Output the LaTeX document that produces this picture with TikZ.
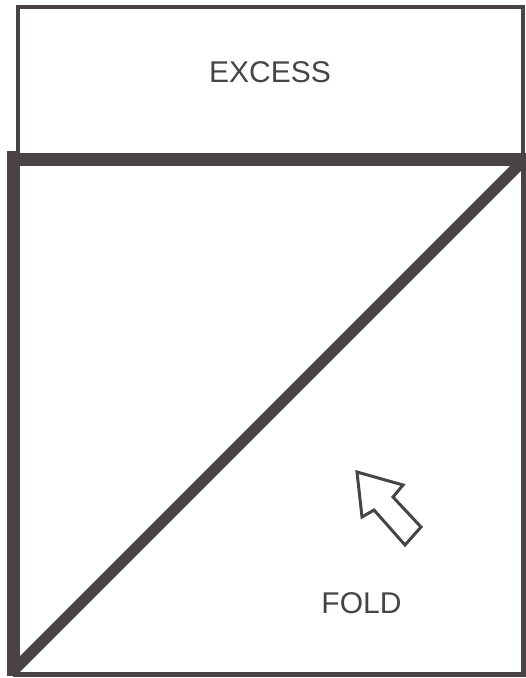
\documentclass[tikz,border=0pt]{standalone}
\usepackage{fontspec}
\setmainfont{Liberation Sans}
\definecolor{ink}{HTML}{4A4345}
\begin{document}
\begin{tikzpicture}[x=1pt,y=-1pt,
  thin line/.style={draw=ink,line width=3.5pt},
  mid line/.style={draw=ink,line width=5pt},
  thick line/.style={draw=ink,line width=13pt},
  label/.style={text=ink,inner sep=0pt,font=\fontsize{30}{36}\selectfont}]
\useasboundingbox[fill=white] (0,0) rectangle (526,678);
% excess box
\draw[thin line] (18,159) -- (18,7) -- (523,7) -- (523,159);
% lower square
\draw[mid line] (13,674) -- (523,674) -- (523,159);
\draw[thick line] (13,151) -- (13,676);
\draw[thick line] (7,159) -- (526,159);
\draw[draw=ink,line width=11pt] (16,668) -- (521,163);
% arrow
\draw[draw=ink,line width=3pt,line join=miter,fill=white]
  (357,472) -- (403,485) -- (393,497) -- (421,527) -- (405,545) -- (374,510) -- (362,517) -- cycle;
\node[label] (excess) at (270,72.5) {EXCESS};
\node[label] (fold) at (361.5,603) {FOLD};
\end{tikzpicture}
\end{document}
